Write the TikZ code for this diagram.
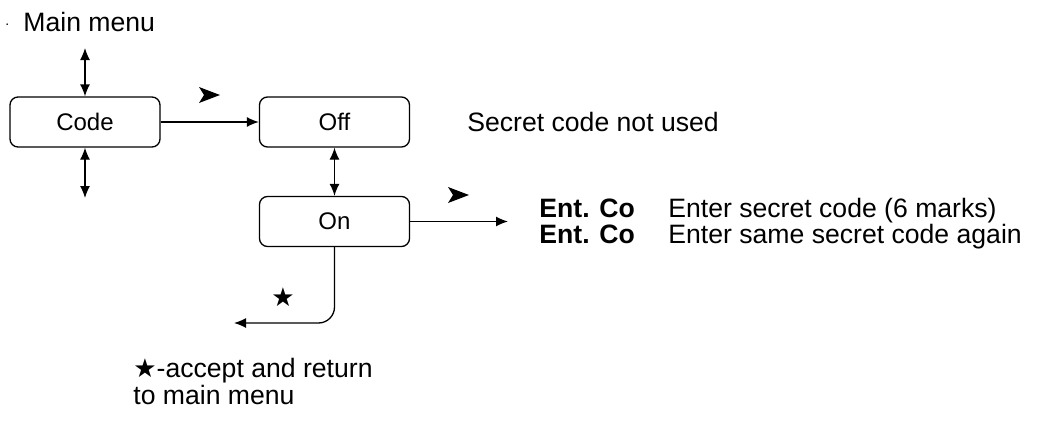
\documentclass[tikz,border=0pt]{standalone}
\usepackage{fontspec}
\setmainfont{Liberation Sans}
\newfontfamily\symfont{DejaVu Sans}
\usetikzlibrary{arrows.meta,positioning}

\tikzset{
  menubox/.style={draw,rounded corners=4pt,minimum width=75pt,minimum height=25pt,
    line width=0.65pt,font=\fontsize{12}{14}\selectfont},
  link/.style={line width=0.65pt,-{Latex[length=6pt,width=5pt]}},
  twoway/.style={line width=0.65pt,{Latex[length=6pt,width=5pt]}-{Latex[length=6pt,width=5pt]}},
  note/.style={font=\fontsize{13.3}{12}\selectfont,inner sep=0pt},
  rownote/.style={note,anchor=west,text height=9pt,text depth=2pt}
}

\begin{document}
\begin{tikzpicture}[x=0.5pt,y=-0.5pt]
    \useasboundingbox (0,0) rectangle (1051,423);

    % The menu boxes
    \node[menubox] (code) at (85,122) {Code};
    \node[menubox] (off) at (334.5,122) {Off};
    \node[menubox] (on) at (334.5,221.5) {On};

    % The main menu label
    \node[note,anchor=west] (dot) at (5,25) {\fontsize{7}{8}\selectfont .};
    \node[note,anchor=west] (mainmenu) at (23,22) {Main menu};

    % Free ends of the arrows
    \coordinate (up) at (85,48);
    \coordinate (down) at (85,198);
    \coordinate (enter) at (508,221.5);
    \coordinate (back) at (234,323);

    % The arrows
    \draw[twoway] (up) -- (code.north);
    \draw[twoway] (code.south) -- (down);
    \draw[link] (code.east) -- (off.west);
    \draw[twoway] (off.south) -- (on.north);
    \draw[link] (on.east) -- (enter);
    \draw[link,rounded corners=8pt] (on.south) |- (back);

    % The key marks
    \fill (220,95) -- (199,87) -- (204,95) -- (199,103) -- cycle;
    \fill (469,195) -- (448,187) -- (453,195) -- (448,203) -- cycle;
    \node[note] (star) at (283,297) {\symfont\fontsize{13}{12}\selectfont ★};

    % The texts
    \node[note,anchor=west] (unused) at (467,122) {Secret code not used};
    \node[rownote] (ent1) at (539,210) {\bfseries Ent. Co};
    \node[rownote] (ent2) at (539,236) {\bfseries Ent. Co};
    \node[rownote] (first) at (668,210) {Enter secret code (6 marks)};
    \node[rownote] (again) at (668,236) {Enter same secret code again};
    \node[note,anchor=north west,align=left] (accept) at (133,358)
      {{\symfont\fontsize{13}{12}\selectfont ★}-accept and return\\to main menu};
\end{tikzpicture}
\end{document}
